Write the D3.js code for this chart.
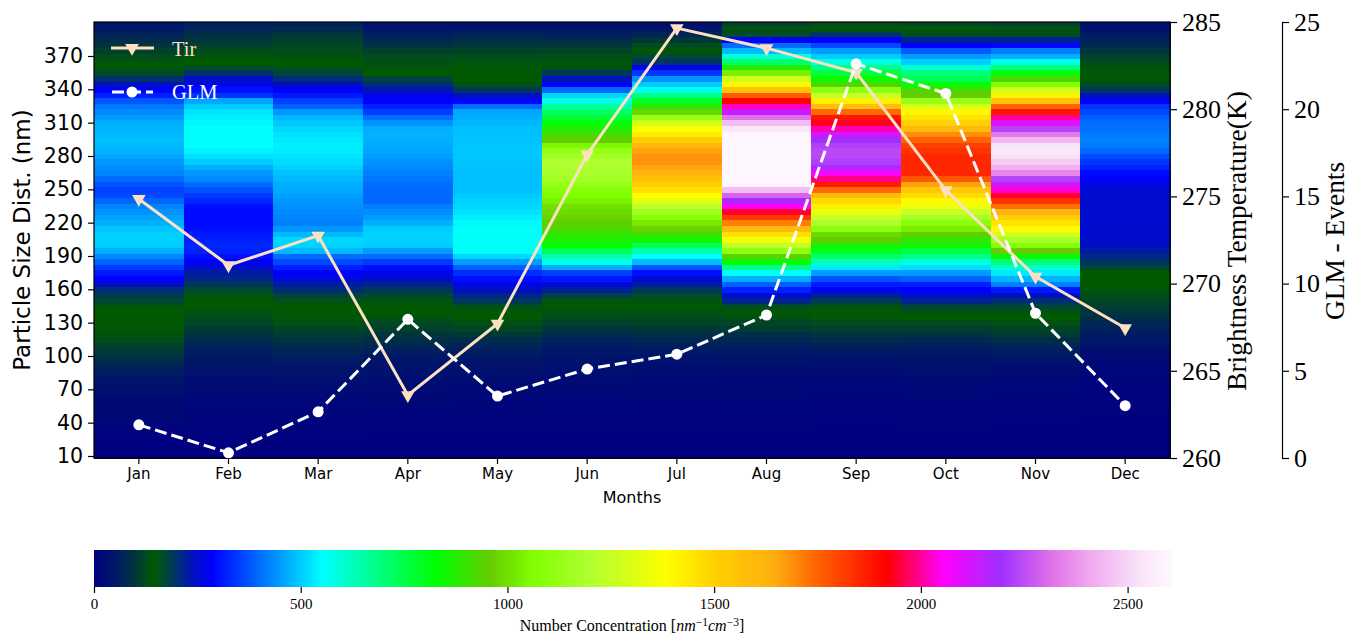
<!DOCTYPE html>
<html>
<head>
<meta charset="utf-8">
<script src="https://cdn.jsdelivr.net/npm/d3@7"></script>
<style>
  html, body { margin: 0; padding: 0; background: #fff; }
  svg { display: block; }
  .serif { font-family: "Liberation Serif", serif; }
  .sans { font-family: "DejaVu Sans", sans-serif; }
</style>
</head>
<body>
<div id="chart"></div>
<script>
const months = ['Jan', 'Feb', 'Mar', 'Apr', 'May', 'Jun', 'Jul', 'Aug', 'Sep', 'Oct', 'Nov', 'Dec'];
const sizeTicks = [10, 40, 70, 100, 130, 160, 190, 220, 250, 280, 310, 340, 370];
const tirTicks = [260, 265, 270, 275, 280, 285];
const glmTicks = [0, 5, 10, 15, 20, 25];
const barTicks = [0, 500, 1000, 1500, 2000, 2500];

const tirValues = [274.85, 271.05, 272.75, 263.6, 267.7, 277.4, 284.65, 283.5, 282.1, 275.35, 270.4, 267.45];
const glmValues = [1.9, 0.3, 2.65, 7.95, 3.55, 5.1, 5.95, 8.2, 22.6, 20.9, 8.3, 3.0];

// particle size rows, one value per row from 10 nm up to 400 nm
const rowSizes = d3.range(10, 405, 5);

const janConc = [0,0,0,0,5,5,12,14,16,18,
  20,25,30,38,44,55,65,78,90,102,
  112,125,132,138,140,140,142,150,170,185,
  205,240,285,310,350,390,430,470,500,505,
  505,490,470,455,440,425,395,360,355,370,
  400,425,435,445,460,472,480,485,480,475,
  470,450,430,410,375,320,285,240,200,165,
  145,135,125,110,95,80,65,50,40];
const febConc = [0,0,0,2,3,4,8,9,10,12,
  14,16,20,24,28,35,40,45,50,60,
  70,78,90,105,118,125,132,140,145,150,
  170,190,210,225,250,280,300,320,325,320,
  310,300,295,295,295,300,325,345,370,400,
  430,445,470,500,520,540,552,555,555,552,
  545,535,525,500,460,340,300,270,240,200,
  160,142,135,125,110,95,85,72,60];
const marConc = [0,0,0,2,4,5,7,9,10,12,
  15,18,22,26,30,35,42,50,60,72,
  82,90,105,118,130,135,140,142,155,175,
  205,225,255,285,320,360,400,480,505,510,
  480,445,422,425,430,437,445,455,462,468,
  478,490,505,515,525,533,535,530,522,510,
  495,478,445,385,350,310,280,240,205,175,
  150,140,130,125,120,110,95,80,65];
const aprConc = [0,0,0,0,2,2,4,6,8,10,
  14,16,18,22,26,35,38,42,50,60,
  75,85,95,110,120,132,140,143,150,170,
  190,215,245,270,300,345,400,450,500,505,
  505,500,470,450,435,420,395,395,395,400,
  410,420,430,440,450,458,465,470,472,470,
  440,400,350,320,285,270,235,205,175,142,
  135,130,125,110,90,75,55,40,30];
const mayConc = [0,0,0,2,2,3,5,6,8,9,
  12,14,16,20,25,30,35,40,50,60,
  68,82,100,118,130,140,143,160,190,215,
  240,268,300,330,385,450,510,555,558,560,
  560,558,545,535,522,512,505,495,488,485,
  485,487,490,492,494,495,492,490,488,484,
  478,470,460,400,290,240,190,150,142,140,
  140,135,125,115,100,85,65,45,30];
const junConc = [0,0,0,0,2,2,4,6,7,8,
  10,12,15,18,22,26,30,34,40,48,
  56,66,78,95,110,125,132,140,150,180,
  220,260,310,350,470,580,640,740,828,865,
  890,925,945,970,985,1000,1035,1060,1090,1130,
  1155,1180,1195,1200,1165,1120,1050,950,915,870,
  815,775,720,650,580,510,395,280,235,190,
  135,135,130,115,100,80,60,45,30];
const julConc = [0,0,0,0,1,1,3,4,5,7,
  9,11,13,16,20,24,28,34,40,50,
  62,72,85,100,115,125,132,142,150,165,
  190,225,255,300,375,480,550,640,740,855,
  905,970,1020,1080,1150,1230,1320,1390,1460,1510,
  1565,1620,1660,1680,1680,1660,1610,1510,1430,1370,
  1280,1130,975,880,790,680,570,500,440,340,
  270,195,170,135,125,100,70,45,30];
const augConc = [0,0,0,1,2,2,4,5,7,8,
  10,12,14,16,18,22,28,36,42,50,
  62,72,85,105,118,130,140,165,215,255,
  320,385,470,555,680,830,945,1100,1240,1360,
  1460,1600,1710,1820,1940,2050,2170,2290,2450,2590,
  2600,2600,2600,2600,2600,2600,2600,2600,2595,2550,
  2450,2310,2130,2020,1920,1760,1560,1400,1270,1030,
  870,710,590,480,400,280,165,130,110];
const sepConc = [0,0,0,0,1,1,2,3,4,6,
  8,10,12,14,16,22,27,32,40,55,
  65,80,95,110,125,138,142,155,185,220,
  275,315,370,450,530,630,715,800,860,950,
  985,1090,1190,1260,1330,1420,1480,1590,1740,1870,
  1990,2070,2170,2220,2240,2240,2225,2190,2115,2010,
  1935,1880,1740,1580,1420,1250,1100,930,840,760,
  680,590,500,450,360,285,195,150,130];
const octConc = [0,0,0,0,1,2,3,4,6,8,
  10,12,14,17,20,25,30,36,42,52,
  62,75,90,108,125,142,150,175,215,250,
  285,320,385,445,520,590,680,760,850,890,
  950,1030,1090,1170,1250,1340,1400,1470,1540,1660,
  1770,1850,1850,1850,1850,1830,1810,1750,1690,1600,
  1500,1450,1400,1290,1120,960,920,830,740,690,
  600,500,450,380,285,220,160,135,120];
const novConc = [0,0,0,0,0,1,2,3,5,6,
  8,10,12,14,15,22,28,35,45,60,
  70,85,105,118,130,142,150,175,200,240,
  310,420,475,530,610,700,840,960,1080,1170,
  1280,1400,1450,1520,1620,1730,1830,1940,2030,2130,
  2230,2350,2420,2480,2520,2545,2530,2440,2330,2230,
  2100,2000,1880,1750,1560,1410,1270,1070,920,820,
  690,580,470,420,290,220,160,130,110];
const decConc = [0,0,0,0,0,1,1,2,2,3,
  4,5,6,8,10,11,13,15,22,28,
  40,47,55,65,72,85,95,110,118,125,
  135,142,142,142,170,195,210,225,240,245,
  250,250,250,250,250,250,250,252,255,262,
  280,295,320,340,365,395,415,420,415,405,
  400,385,360,340,280,240,190,165,140,138,
  135,125,110,95,80,65,50,35,28];
const concByMonth = [janConc, febConc, marConc, aprConc, mayConc, junConc,
  julConc, augConc, sepConc, octConc, novConc, decConc];

// colour stops
const cmapStops = [0, 60, 100, 125, 142, 165, 200, 240, 285, 420, 552, 690, 828, 957, 1060, 1200, 1382, 1500, 1640, 1753, 1916, 2054, 2192, 2313, 2408, 2520, 2605];
const cmapColors = ['#000080', '#001e60', '#003838', '#004c1c', '#005a00', '#004c28', '#003070', '#0010c0', '#0000ff',
  '#0080ff', '#00ffff', '#00ff80', '#00ff00', '#66cc00', '#80ff00', '#b0ff30', '#ffff00', '#ffd000', '#ffb010',
  '#ff6000', '#ff0000', '#ff00ff', '#a030ff', '#e070e8', '#f0a8f0', '#f8e0f8', '#fff8ff'];

const width = 1349, height = 635;
const tirColor = '#fde0c0';

const color = d3.scaleLinear().domain(cmapStops).range(cmapColors).interpolate(d3.interpolateRgb).clamp(true);

const x = d3.scaleBand().domain(months).range([94, 1170]);
const y = d3.scaleLinear().domain([8.2, 400.6]).range([458, 22]).clamp(true);
const yTir = d3.scaleLinear().domain([260, 285]).range([458, 22]);
const yGlm = d3.scaleLinear().domain([0, 25]).range([458, 22]);
const xBar = d3.scaleLinear().domain([0, 2605]).range([94, 1171]);

const svg = d3.select('#chart').append('svg').attr('width', width).attr('height', height);

// heat map, one group per month
const columns = svg.append('g').attr('shape-rendering', 'crispEdges')
  .selectAll('g').data(months).join('g');
columns.each(function (m, i) {
  d3.select(this).selectAll('rect').data(rowSizes).join('rect')
    .attr('x', x(m))
    .attr('width', x.bandwidth() + 0.5)
    .attr('y', (s) => y(s + 2.5))
    .attr('height', (s) => y(s - 2.5) - y(s + 2.5) + 0.5)
    .attr('fill', (s, r) => color(concByMonth[i][r]));
});

// box
svg.append('rect').attr('x', 94).attr('y', 22).attr('width', 1076).attr('height', 436)
  .attr('fill', 'none').attr('stroke', '#000').attr('stroke-width', 1.2);

function styleAxis(g, cls, size) {
  g.attr('class', cls).attr('font-family', null).attr('font-size', size);
  g.selectAll('text').attr('fill', '#000');
  g.selectAll('line').attr('stroke', '#000').attr('stroke-width', 1.2);
}

svg.append('g').attr('transform', 'translate(94,0)')
  .call(d3.axisLeft(y).tickValues(sizeTicks).tickSize(6).tickPadding(5))
  .call(styleAxis, 'sans', 20.5)
  .call((g) => g.select('.domain').remove());

svg.append('g').attr('transform', 'translate(0,458)')
  .call(d3.axisBottom(x).tickSize(6).tickPadding(4))
  .call(styleAxis, 'sans', 15)
  .call((g) => g.select('.domain').remove());

svg.append('g').attr('transform', 'translate(1170,0)')
  .call(d3.axisRight(yTir).tickValues(tirTicks).tickSize(7).tickPadding(5))
  .call(styleAxis, 'serif', 26)
  .call((g) => g.select('.domain').remove());

svg.append('g').attr('transform', 'translate(1282,0)')
  .call(d3.axisRight(yGlm).tickValues(glmTicks).tickSize(7).tickPadding(5).tickSizeOuter(0))
  .call(styleAxis, 'serif', 26)
  .call((g) => g.select('.domain').attr('stroke', '#000').attr('stroke-width', 1.2));

// axis titles
svg.append('text').attr('class', 'sans').attr('x', 632).attr('y', 503)
  .attr('text-anchor', 'middle').attr('font-size', 16).text('Months');
svg.append('text').attr('class', 'sans').attr('text-anchor', 'middle').attr('font-size', 23)
  .attr('transform', 'translate(30,240) rotate(-90)').text('Particle Size Dist. (nm)');
svg.append('text').attr('class', 'serif').attr('text-anchor', 'middle').attr('font-size', 27.4)
  .attr('transform', 'translate(1246,241) rotate(-90)').text('Brightness Temperature(K)');
svg.append('text').attr('class', 'serif').attr('text-anchor', 'middle').attr('font-size', 27.4)
  .attr('transform', 'translate(1344,241) rotate(-90)').text('GLM - Events');

// lines
const tirLine = d3.line().x((d, i) => x(months[i]) + x.bandwidth() / 2).y((d) => yTir(d));
const glmLine = d3.line().x((d, i) => x(months[i]) + x.bandwidth() / 2).y((d) => yGlm(d));
const triangle = d3.symbol().type(d3.symbolTriangle).size(80);

svg.append('path').datum(tirValues).attr('d', tirLine)
  .attr('fill', 'none').attr('stroke', tirColor).attr('stroke-width', 3);
svg.append('g').selectAll('path').data(tirValues).join('path')
  .attr('d', triangle)
  .attr('transform', (d, i) => `translate(${x(months[i]) + x.bandwidth() / 2},${yTir(d)}) rotate(180)`)
  .attr('fill', tirColor);

svg.append('path').datum(glmValues).attr('d', glmLine)
  .attr('fill', 'none').attr('stroke', '#fff').attr('stroke-width', 3).attr('stroke-dasharray', '12,5');
svg.append('g').selectAll('circle').data(glmValues).join('circle')
  .attr('cx', (d, i) => x(months[i]) + x.bandwidth() / 2)
  .attr('cy', (d) => yGlm(d))
  .attr('r', 5.5)
  .attr('fill', '#fff');

// legend
const legend = svg.append('g');
legend.append('line').attr('x1', 111).attr('x2', 154).attr('y1', 48).attr('y2', 48)
  .attr('stroke', tirColor).attr('stroke-width', 3);
legend.append('path').attr('d', triangle).attr('transform', 'translate(132,48) rotate(180)').attr('fill', tirColor);
legend.append('text').attr('class', 'serif').attr('x', 172).attr('y', 56)
  .attr('font-size', 20.5).attr('fill', tirColor).text('Tir');
legend.append('line').attr('x1', 112).attr('x2', 153).attr('y1', 92).attr('y2', 92)
  .attr('stroke', '#fff').attr('stroke-width', 3).attr('stroke-dasharray', '12,5');
legend.append('circle').attr('cx', 132).attr('cy', 92).attr('r', 5.5).attr('fill', '#fff');
legend.append('text').attr('class', 'serif').attr('x', 172).attr('y', 99)
  .attr('font-size', 20.5).attr('fill', '#fff').text('GLM');

// colour bar
const barSteps = d3.range(0, 2605, 2.5);
svg.append('g').attr('shape-rendering', 'crispEdges')
  .selectAll('rect').data(barSteps).join('rect')
  .attr('x', (d) => xBar(d))
  .attr('width', xBar(2.5) - xBar(0) + 0.6)
  .attr('y', 550).attr('height', 37)
  .attr('fill', (d) => color(d));

svg.append('g').attr('transform', 'translate(0,587)')
  .call(d3.axisBottom(xBar).tickValues(barTicks).tickFormat(d3.format('d')).tickSize(6).tickPadding(5))
  .call(styleAxis, 'serif', 15)
  .call((g) => g.select('.domain').remove());

const barLabel = svg.append('text').attr('class', 'serif').attr('x', 632).attr('y', 631)
  .attr('text-anchor', 'middle').attr('font-size', 16);
barLabel.append('tspan').text('Number Concentration [');
barLabel.append('tspan').attr('font-style', 'italic').text('nm');
barLabel.append('tspan').attr('font-size', 11.5).attr('dy', -5).text('−1');
barLabel.append('tspan').attr('font-style', 'italic').attr('dy', 5).text('cm');
barLabel.append('tspan').attr('font-size', 11.5).attr('dy', -5).text('−3');
barLabel.append('tspan').attr('dy', 5).text(']');
</script>
</body>
</html>
